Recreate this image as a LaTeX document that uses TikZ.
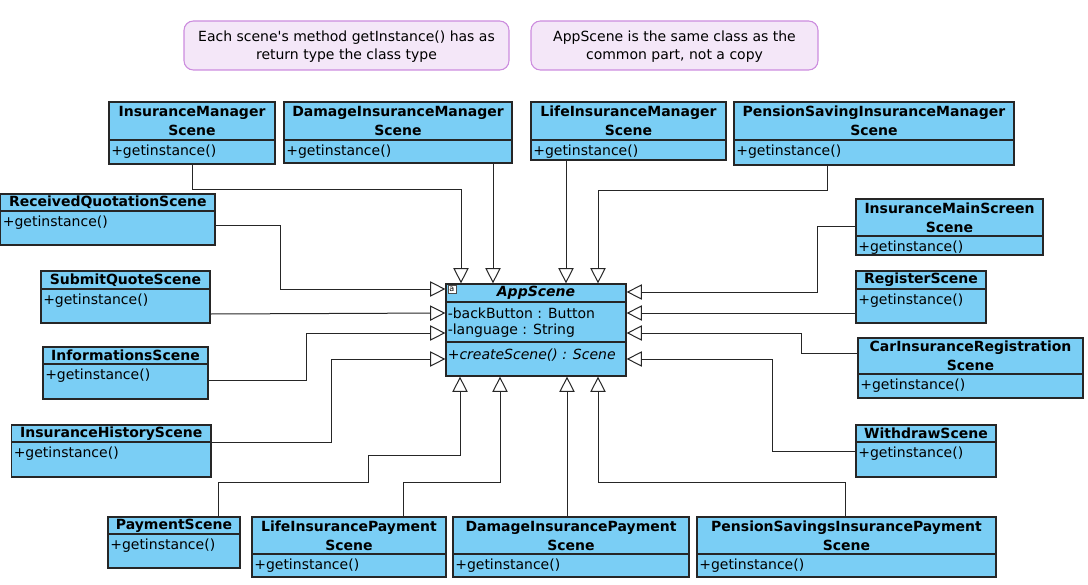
\documentclass[tikz,border=0pt]{standalone}
\usepackage{fontspec}
\setmainfont{DejaVu Sans}
\usetikzlibrary{arrows.meta,fit}
\definecolor{clsfill}{RGB}{122,206,245}
\definecolor{notefill}{RGB}{244,231,248}
\definecolor{notedraw}{RGB}{204,140,222}
\tikzset{
 clsbox/.style={draw=black!85, line width=0.9pt, fill=clsfill, inner sep=0pt},
 clsline/.style={draw=black!85, line width=0.9pt},
 clstitle/.style={font=\fontsize{10.5}{14.25}\selectfont\bfseries, align=center, inner sep=0pt},
 clsop/.style={font=\fontsize{10.5}{14.25}\selectfont, anchor=west, inner sep=0pt},
 inh/.style={draw=black!85, line width=0.75pt, -{Triangle[length=11.5pt,width=11.5pt,fill=white]}},
 notebox/.style={draw=notedraw, fill=notefill, rounded corners=7pt, line width=0.8pt, inner sep=0pt},
 notetext/.style={font=\fontsize{10.5}{13.5}\selectfont, align=center, inner sep=0pt},
}
\newcommand\umlcls[8]{%
 \node[clsbox, fit={(#2,#3) (#4,#5)}] (#1) {};
 \draw[clsline] (#1.west |- 0,#6) -- (#1.east |- 0,#6);
 \node[clstitle] (#1-t) at ({(#2+#4)/2},{(#3+#6)/2}) {#7};
 \node[clsop] (#1-m) at ({#2+2},{#6+11.5}) {#8};
}
\begin{document}
\begin{tikzpicture}[x=0.75pt,y=-0.75pt]
\useasboundingbox (0,0) rectangle (1088,585);
% notes
\node[notebox, fit={(184,21) (509,70)}] (n1) {};
\node[notetext] (n1t) at ([yshift=-1.2pt]n1.center) {Each scene\textquotesingle s method getInstance() has as\\return type the class type};
\node[notebox, fit={(531,21) (818,70)}] (n2) {};
\node[notetext] (n2t) at ([yshift=-1.2pt]n2.center) {AppScene is the same class as the\\common part, not a copy};
% AppScene
\node[clsbox, fit={(446,284) (626,376)}] (app) {};
\draw[clsline] (app.west |- 0,302) -- (app.east |- 0,302);
\draw[clsline] (app.west |- 0,342) -- (app.east |- 0,342);
\node[font=\fontsize{10.5}{14.25}\selectfont\bfseries\itshape, inner sep=0pt] (app-t) at (536,293) {AppScene};
\node[draw=black!70, fill=white, inner sep=0.2pt, line width=0.4pt, minimum size=6pt, font=\fontsize{6}{6}\selectfont, anchor=north west] (icon) at (447.5,285) {a};
\node[clsop] (app-a1) at (447.5,313) {-backButton : Button};
\node[clsop] (app-a2) at (447.5,331) {-language : String};
\node[clsop, font=\fontsize{10.5}{14.25}\selectfont\itshape] (app-m) at (447.5,355) {+createScene() : Scene};
% classes
\umlcls{ims}{109}{102}{275}{164}{140}{InsuranceManager\\Scene}{+getinstance()}
\umlcls{dims}{284}{102}{512}{163}{140}{DamageInsuranceManager\\Scene}{+getinstance()}
\umlcls{lims}{531}{102}{726}{160}{140}{LifeInsuranceManager\\Scene}{+getinstance()}
\umlcls{psims}{734}{102}{1014}{165}{140}{PensionSavingInsuranceManager\\Scene}{+getinstance()}
\umlcls{rqs}{0.6}{194}{215}{245}{211}{ReceivedQuotationScene}{+getinstance()}
\umlcls{sqs}{41}{271}{210}{323}{289}{SubmitQuoteScene}{+getinstance()}
\umlcls{infs}{43}{347}{208}{399}{364}{InformationsScene}{+getinstance()}
\umlcls{ihs}{11.5}{425}{211}{477}{442}{InsuranceHistoryScene}{+getinstance()}
\umlcls{pays}{108}{517}{240}{568}{534}{PaymentScene}{+getinstance()}
\umlcls{lips}{252}{517}{446}{577}{554}{LifeInsurancePayment\\Scene}{+getinstance()}
\umlcls{dips}{453}{517}{689}{577}{554}{DamageInsurancePayment\\Scene}{+getinstance()}
\umlcls{psips}{697}{517}{996}{577}{554}{PensionSavingsInsurancePayment\\Scene}{+getinstance()}
\umlcls{imss}{856}{199}{1043}{255}{236}{InsuranceMainScreen\\Scene}{+getinstance()}
\umlcls{regs}{856}{271}{986}{323}{289}{RegisterScene}{+getinstance()}
\umlcls{cirs}{858}{338}{1083}{398}{374}{CarInsuranceRegistration\\Scene}{+getinstance()}
\umlcls{wds}{856}{425}{996}{477}{442}{WithdrawScene}{+getinstance()}
% top connectors
\draw[inh] (ims.south -| 192,0) -- (192,189) -| (app.north -| 461,0);
\draw[inh] (dims.south -| 493,0) -- (app.north -| 493,0);
\draw[inh] (lims.south -| 566,0) -- (app.north -| 566,0);
\draw[inh] (psims.south -| 827,0) -- (827,190) -| (app.north -| 598,0);
% left connectors
\draw[inh] (rqs.east |- 0,225) -- (280,225) |- (app.west |- 0,289);
\draw[inh] (sqs.east |- 0,314) -- (app.west |- 0,313);
\draw[inh] (infs.east |- 0,380) -- (306,380) |- (app.west |- 0,333);
\draw[inh] (ihs.east |- 0,442) -- (331,442) |- (app.west |- 0,359);
% right connectors
\draw[inh] (imss.west |- 0,226) -- (817,226) |- (app.east |- 0,292);
\draw[inh] (regs.west |- 0,313) -- (app.east |- 0,313);
\draw[inh] (cirs.west |- 0,353) -- (801,353) |- (app.east |- 0,333);
\draw[inh] (wds.west |- 0,451) -- (772,451) |- (app.east |- 0,359);
% bottom connectors
\draw[inh] (pays.north -| 218,0) -- (218,482) -| (368,455) -| (app.south -| 460,0);
\draw[inh] (lips.north -| 403,0) -- (403,482) -| (app.south -| 500,0);
\draw[inh] (dips.north -| 567,0) -- (app.south -| 567,0);
\draw[inh] (psips.north -| 845,0) -- (845,482) -| (app.south -| 598,0);
\end{tikzpicture}
\end{document}
